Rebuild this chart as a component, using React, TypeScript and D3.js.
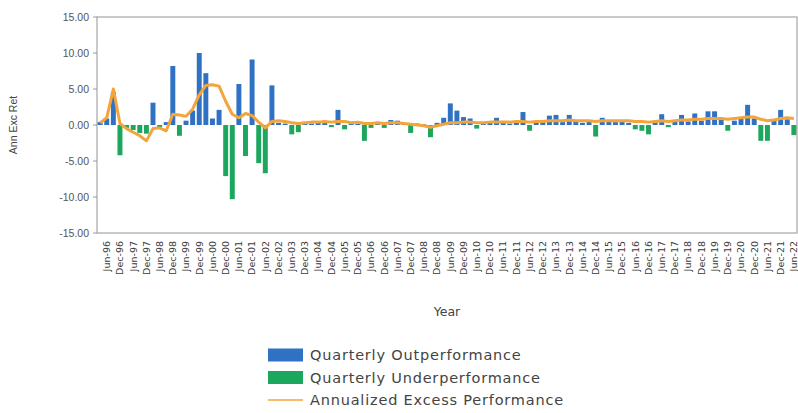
import React, { useEffect, useRef } from 'react';
import * as d3 from 'd3';

// quarterly excess return, 1996 Q1 .. 2022 Q2
const quarters: string[] = [];
const years = d3.range(1996, 2023);
years.forEach((y) => {
  ['Mar', 'Jun', 'Sep', 'Dec'].forEach((m) => quarters.push(`${m}-${String(y).slice(2)}`));
});
const categories = quarters.slice(0, 106);

const quarterly = [
  0.4, 0.9, 4.6, -4.2, -0.4, -0.7, -1.1, -1.2, 3.1, -0.3,
  0.4, 8.2, -1.5, 0.6, 2.0, 10.0, 7.2, 0.9, 2.1, -7.1,
  -10.3, 5.7, -4.3, 9.1, -5.3, -6.7, 5.5, 0.3, 0.2, -1.3,
  -1.0, 0.3, 0.2, 0.4, 0.3, -0.3, 2.1, -0.6, 0.3, 0.2,
  -2.2, -0.4, 0.2, -0.4, 0.7, 0.6, 0.2, -1.1, 0.2, 0.1,
  -1.7, 0.3, 1.0, 3.0, 2.0, 1.1, 0.9, -0.5, 0.3, 0.4,
  1.0, 0.3, 0.2, 0.4, 1.8, -0.8, 0.3, 0.5, 1.3, 1.4,
  0.4, 1.4, 0.5, 0.3, 0.6, -1.6, 1.0, 0.5, 0.4, 0.6,
  0.3, -0.6, -0.8, -1.3, 0.4, 1.5, -0.3, 0.6, 1.4, 0.5,
  1.6, 0.6, 1.9, 1.9, 0.7, -0.8, 0.6, 1.0, 2.8, 0.9,
  -2.2, -2.2, 0.7, 2.1, 0.8, -1.4,
];

const annualized = [
  0.3, 1.0, 5.0, 0.2, -0.5, -1.0, -1.5, -2.2, -0.5, -0.4,
  -0.8, 1.5, 1.4, 1.2, 2.2, 4.2, 5.5, 5.6, 5.4, 3.3,
  1.5, 1.0, 1.6, 1.3, 0.4, -0.4, 0.5, 0.6, 0.5, 0.3,
  0.2, 0.3, 0.4, 0.4, 0.5, 0.4, 0.5, 0.5, 0.3, 0.4,
  0.2, 0.2, 0.3, 0.2, 0.3, 0.3, 0.2, 0.1, 0.0, -0.1,
  -0.3, -0.1, 0.1, 0.3, 0.3, 0.4, 0.4, 0.3, 0.3, 0.4,
  0.4, 0.4, 0.4, 0.5, 0.5, 0.4, 0.5, 0.5, 0.6, 0.6,
  0.6, 0.7, 0.6, 0.6, 0.6, 0.5, 0.6, 0.6, 0.6, 0.6,
  0.6, 0.5, 0.5, 0.4, 0.5, 0.6, 0.5, 0.6, 0.7, 0.7,
  0.8, 0.8, 0.9, 0.9, 0.9, 0.8, 0.9, 1.0, 1.1, 1.1,
  0.8, 0.6, 0.7, 0.9, 1.0, 0.9,
];

const yTicks = [15, 10, 5, 0, -5, -10, -15];

const legendItems = [
  { label: 'Quarterly Outperformance', color: '#2f72c3', kind: 'rect' },
  { label: 'Quarterly Underperformance', color: '#1da65d', kind: 'rect' },
  { label: 'Annualized Excess Performance', color: '#f3a43a', kind: 'line' },
];

const App: React.FC = () => {
  const ref = useRef<SVGSVGElement | null>(null);

  useEffect(() => {
    if (!ref.current) return;
    const svg = d3.select(ref.current);
    svg.selectAll('*').remove();

    const left = 97;
    const right = 797;
    const top = 17;
    const bottom = 233;
    const font = 'Liberation Sans, Arial, sans-serif';
    const wide = 'DejaVu Sans, sans-serif';

    const x = d3.scaleBand().domain(categories).range([left, right]).paddingInner(0.25).paddingOuter(0.1);
    const y = d3.scaleLinear().domain([-15, 15]).range([bottom, top]);

    // frame
    svg
      .append('rect')
      .attr('x', left)
      .attr('y', top)
      .attr('width', right - left)
      .attr('height', bottom - top)
      .attr('fill', 'none')
      .attr('stroke', '#adadad')
      .attr('stroke-width', 1.3);

    // y axis ticks + labels
    const ya = svg.append('g').attr('font-family', font).attr('font-size', 10.5).attr('fill', '#555');
    yTicks.forEach((t) => {
      ya.append('line')
        .attr('x1', left - 4)
        .attr('x2', left)
        .attr('y1', y(t))
        .attr('y2', y(t))
        .attr('stroke', '#999');
      ya.append('text')
        .attr('x', left - 8)
        .attr('y', y(t))
        .attr('dy', '0.35em')
        .attr('text-anchor', 'end')
        .text(t.toFixed(2));
    });

    svg
      .append('text')
      .attr('transform', `translate(17,${(top + bottom) / 2}) rotate(-90)`)
      .attr('text-anchor', 'middle')
      .attr('font-family', font)
      .attr('font-size', 10.5)
      .attr('fill', '#444')
      .text('Ann Exc Ret');

    // bars
    svg
      .append('g')
      .selectAll('rect')
      .data(quarterly)
      .enter()
      .append('rect')
      .attr('x', (_, i) => x(categories[i])!)
      .attr('width', x.bandwidth())
      .attr('y', (d) => y(Math.max(0, d)))
      .attr('height', (d) => Math.abs(y(d) - y(0)))
      .attr('fill', (d) => (d >= 0 ? legendItems[0].color : legendItems[1].color));

    // annualized line
    const line = d3
      .line<number>()
      .x((_, i) => x(categories[i])! + x.bandwidth() / 2)
      .y((d) => y(d));
    svg
      .append('path')
      .datum(annualized)
      .attr('d', line)
      .attr('fill', 'none')
      .attr('stroke', legendItems[2].color)
      .attr('stroke-width', 3)
      .attr('stroke-linejoin', 'round');

    // x tick labels, every other quarter
    const xa = svg.append('g').attr('font-family', wide).attr('font-size', 9.5).attr('fill', '#3a3a3a');
    categories.forEach((c, i) => {
      if (i % 2 !== 1) return;
      const cx = x(c)! + x.bandwidth() / 2;
      xa.append('text')
        .attr('transform', `translate(${cx},${bottom + 8}) rotate(-90)`)
        .attr('text-anchor', 'end')
        .attr('dy', '0.35em')
        .text(c);
    });

    svg
      .append('text')
      .attr('x', 447)
      .attr('y', 316)
      .attr('text-anchor', 'middle')
      .attr('font-family', wide)
      .attr('font-size', 12.5)
      .attr('fill', '#444')
      .text('Year');

    // legend
    const lg = svg
      .append('g')
      .attr('font-family', wide)
      .attr('font-size', 14.5)
      .attr('letter-spacing', 0.8)
      .attr('fill', '#444');
    legendItems.forEach((item, i) => {
      const ly = 355 + i * 22.5;
      if (item.kind === 'rect') {
        lg.append('rect').attr('x', 268).attr('y', ly - 6.5).attr('width', 35).attr('height', 13).attr('fill', item.color);
      } else {
        lg.append('line')
          .attr('x1', 268)
          .attr('x2', 303)
          .attr('y1', ly)
          .attr('y2', ly)
          .attr('stroke', item.color)
          .attr('stroke-width', 1.5);
      }
      lg.append('text').attr('x', 310).attr('y', ly).attr('dy', '0.35em').text(item.label);
    });
  }, []);

  return (
    <svg
      ref={ref}
      width={798}
      height={413}
      style={{ position: 'absolute', left: 0, top: 0, background: '#fff' }}
    ></svg>
  );
};

export default App;
